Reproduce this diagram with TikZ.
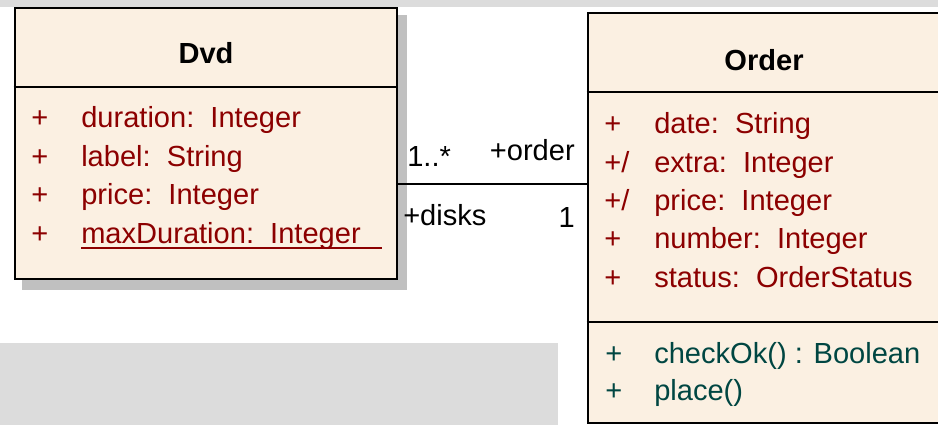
\documentclass[tikz,border=0pt]{standalone}
\usepackage{fontspec}
\setmainfont{Liberation Sans}
\usetikzlibrary{fit}
\definecolor{attrred}{RGB}{140,0,0}
\definecolor{opteal}{RGB}{0,70,66}
\definecolor{classfill}{RGB}{251,240,226}
\definecolor{bandgray}{RGB}{220,220,220}
\definecolor{shadowgray}{RGB}{192,192,192}
\begin{document}
\begin{tikzpicture}[x=0.75pt,y=-0.75pt,
  every node/.style={inner sep=0pt, font=\fontsize{21.8}{26}\selectfont},
  classbox/.style={draw=black, fill=classfill, line width=2.2pt, inner sep=0pt},
  rule/.style={draw=black, line width=2.2pt},
  titletext/.style={anchor=base, font=\fontsize{21.8}{26}\selectfont\bfseries},
  vis/.style={anchor=base west, text=attrred},
  attr/.style={anchor=base west, text=attrred},
  opvis/.style={anchor=base west, text=opteal},
  op/.style={anchor=base west, text=opteal},
  role/.style={text=black},
  assoc/.style={draw=black, line width=2.2pt}]
\useasboundingbox (0,0) rectangle (938,425);

% background bands
\fill[bandgray] (0,0) rectangle (938,7);
\fill[bandgray] (0,343) rectangle (558,425);

% class Dvd
\fill[shadowgray] (22,15) rectangle (407,290);
\node[classbox, fit={(15,8)(397,279)}] (dvd) {};
\draw[rule] (dvd.west |- 0,87) -- (dvd.east |- 0,87);
\node[titletext] (dvdTitle) at (206,63) {Dvd};
\node[vis] (dvdV1) at (31,127.5) {+};
\node[attr] (dvdA1) at (81,127.5) {duration:\ \ Integer};
\node[vis] (dvdV2) at (31,166) {+};
\node[attr] (dvdA2) at (81,166) {label:\ \ String};
\node[vis] (dvdV3) at (31,204.5) {+};
\node[attr] (dvdA3) at (81,204.5) {price:\ \ Integer};
\node[vis] (dvdV4) at (31,243) {+};
\node[attr] (dvdA4) at (81,243) {maxDuration:\ \ Integer};
\draw[attrred, line width=1.6pt] (81,248) -- (382,248);

% class Order
\node[classbox, fit={(588,13)(941,423)}] (order) {};
\draw[rule] (order.west |- 0,92) -- (order.east |- 0,92);
\draw[rule] (order.west |- 0,322) -- (order.east |- 0,322);
\node[titletext] (orderTitle) at (764,70) {Order};
\node[vis] (ordV1) at (604,133) {+};
\node[attr] (ordA1) at (654,133) {date:\ \ String};
\node[vis] (ordV2) at (604,172) {+/};
\node[attr] (ordA2) at (654,172) {extra:\ \ Integer};
\node[vis] (ordV3) at (604,210) {+/};
\node[attr] (ordA3) at (654,210) {price:\ \ Integer};
\node[vis] (ordV4) at (604,248.5) {+};
\node[attr] (ordA4) at (654,248.5) {number:\ \ Integer};
\node[vis] (ordV5) at (604,287) {+};
\node[attr] (ordA5) at (654,287) {status:\ \ OrderStatus};
\node[opvis] (ordO1v) at (605,363) {+};
\node[op] (ordO1) at (654,363) {checkOk() : Boolean};
\node[opvis] (ordO2v) at (605,400.5) {+};
\node[op] (ordO2) at (654,400.5) {place()};

% association Dvd -- Order
\draw[assoc] (dvd.east |- 0,184) -- (order.west |- 0,184);
\node[role, anchor=base west] (mulDisks) at (407,166) {1..*};
\node[role, anchor=base east] (roleOrder) at (575,160) {+order};
\node[role, anchor=base west] (roleDisks) at (403,225) {+disks};
\node[role, anchor=base east] (mulOrder) at (575,227) {1};
\end{tikzpicture}
\end{document}
